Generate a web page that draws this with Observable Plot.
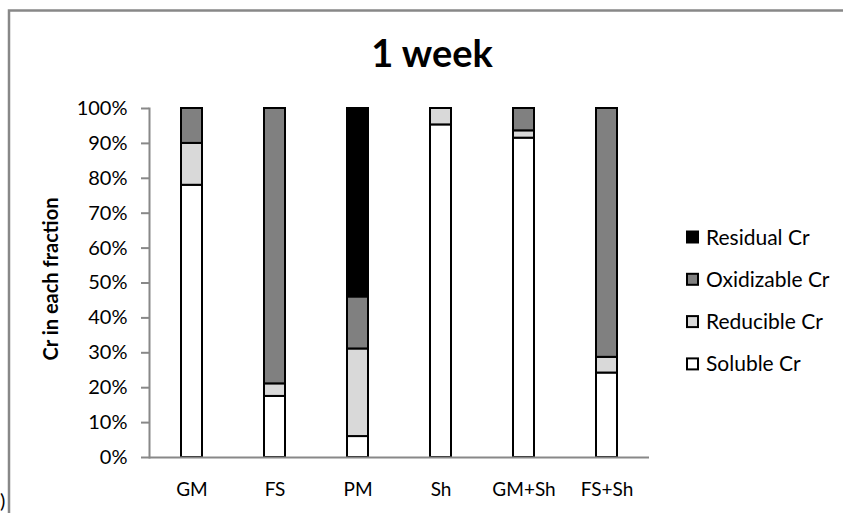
<!DOCTYPE html>
<html>
<head>
<meta charset="utf-8">
<script src="https://cdn.jsdelivr.net/npm/d3@7"></script>
<script src="https://cdn.jsdelivr.net/npm/@observablehq/plot@0.6"></script>
<style>
  html, body { margin: 0; padding: 0; background: #fff; }
  #chart svg { display: block; }
</style>
</head>
<body>
<div id="chart"></div>
<script>
// Chromium fractions after one week, % of total Cr per treatment
const samples = ["GM", "FS", "PM", "Sh", "GM+Sh", "FS+Sh"];
const soluble = [78, 17.5, 6, 95.3, 91.5, 24.2];
const reducible = [12, 3.6, 25.1, 4.7, 2.1, 4.5];
const oxidizable = [10, 78.9, 14.9, 0, 6.4, 71.3];
const residual = [0, 0, 54, 0, 0, 0];

// stacking order, bottom to top
const fractions = ["Soluble Cr", "Reducible Cr", "Oxidizable Cr", "Residual Cr"];
const fractionColors = ["#ffffff", "#d9d9d9", "#808080", "#000000"];
const yTicks = [0, 10, 20, 30, 40, 50, 60, 70, 80, 90, 100];

const seriesByFraction = [soluble, reducible, oxidizable, residual];
const rows = [];
fractions.forEach((f, i) => {
  samples.forEach((s, j) => {
    const v = seriesByFraction[i][j];
    if (v > 0) rows.push({sample: s, fraction: f, value: v});
  });
});

const chart = Plot.plot({
  width: 843,
  height: 513,
  marginLeft: 149,
  marginRight: 194,
  marginTop: 108,
  marginBottom: 56,
  style: {fontFamily: "Lato, sans-serif", fontSize: "19px", background: "#fff", color: "#000"},
  x: {domain: samples, paddingInner: 0.75, paddingOuter: 0.375, label: null},
  y: {domain: [0, 100], label: null},
  color: {domain: fractions, range: fractionColors},
  marks: [
    Plot.frame({anchor: "left", stroke: "#888", strokeWidth: 2}),
    Plot.axisY({ticks: yTicks, tickFormat: d => d + "%", tickSize: 8, tickPadding: 14,
                stroke: "#888", strokeWidth: 2, fill: "#000", fontSize: 20, label: null}),
    Plot.axisX({tickSize: 0, tickPadding: 25, fill: "#000", fontSize: 19, label: null}),
    Plot.barY(rows, Plot.stackY({
      x: "sample", y: "value", fill: "fraction", order: fractions,
      stroke: "#000", strokeWidth: 2
    })),
    Plot.ruleY([0], {stroke: "#888", strokeWidth: 2})
  ]
});

document.getElementById("chart").appendChild(chart);

const svg = d3.select(chart);

// outer chart-area border
svg.append("path")
  .attr("d", "M9,513V10.5H843")
  .attr("fill", "none")
  .attr("stroke", "#888")
  .attr("stroke-width", 2.5);

// title
svg.append("text")
  .attr("x", 432).attr("y", 67)
  .attr("text-anchor", "middle")
  .attr("font-family", "Lato, sans-serif")
  .attr("font-weight", "bold")
  .attr("font-size", 38)
  .attr("fill", "#000")
  .text("1 week");

// y-axis title
svg.append("text")
  .attr("transform", "translate(58,279) rotate(-90)")
  .attr("text-anchor", "middle")
  .attr("font-family", "Lato, sans-serif")
  .attr("font-weight", "bold")
  .attr("font-size", 20)
  .attr("fill", "#000")
  .text("Cr in each fraction");

// legend, top to bottom: Residual, Oxidizable, Reducible, Soluble
const legendItems = fractions.map((f, i) => ({label: f, color: fractionColors[i]})).reverse();
const legend = svg.append("g")
  .attr("font-family", "Lato, sans-serif")
  .attr("font-size", 21)
  .attr("text-anchor", "start");
legendItems.forEach((d, i) => {
  const cy = 237 + i * 42.3;
  legend.append("rect")
    .attr("x", 687).attr("y", cy - 5.5)
    .attr("width", 11).attr("height", 11)
    .attr("fill", d.color)
    .attr("stroke", "#000")
    .attr("stroke-width", 2);
  legend.append("text")
    .attr("x", 706).attr("y", cy + 7.5)
    .attr("text-anchor", "start")
    .attr("fill", "#000")
    .text(d.label);
});

// panel-label remnant at the lower left edge
svg.append("text")
  .attr("x", 0).attr("y", 508)
  .attr("text-anchor", "start")
  .attr("font-family", "Lato, sans-serif")
  .attr("font-size", 20)
  .attr("fill", "#000")
  .text(")");
</script>
</body>
</html>
